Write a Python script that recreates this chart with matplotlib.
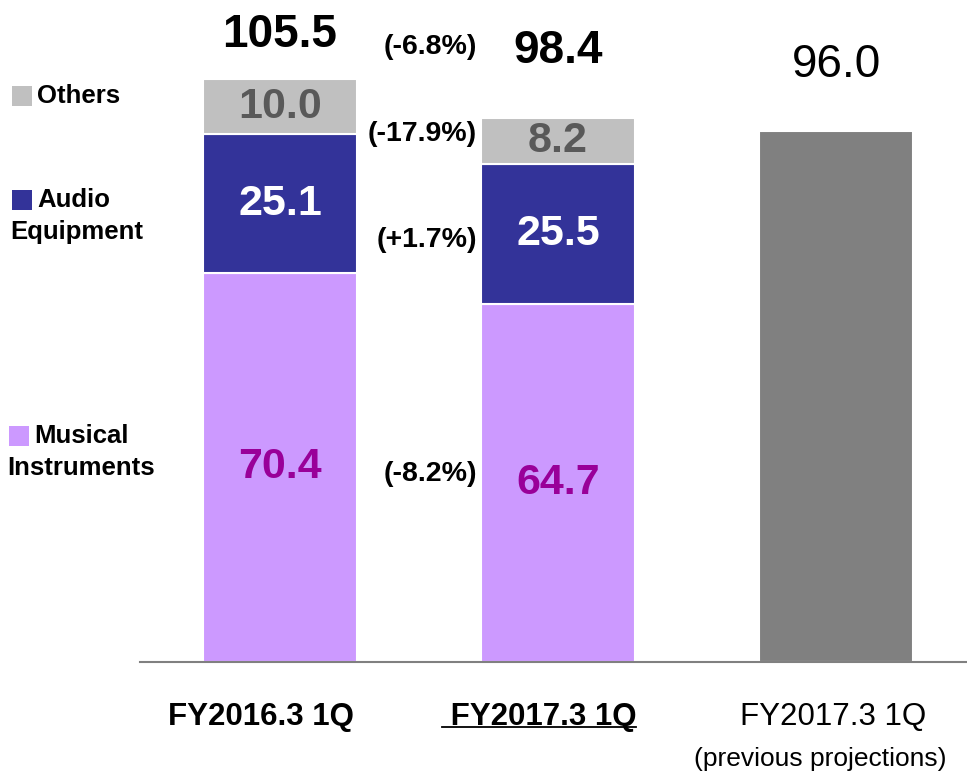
import matplotlib
matplotlib.use("Agg")
import matplotlib.pyplot as plt
from matplotlib.patches import Rectangle
from matplotlib.lines import Line2D
import numpy as np

plt.rcParams['font.family'] = ['Liberation Sans', 'DejaVu Sans']

# ---- data ----
periods = ["FY2016.3 1Q", " FY2017.3 1Q", "FY2017.3 1Q"]
period_sub = ["", "", "(previous projections)"]
musical = [70.4, 64.7]
audio = [25.1, 25.5]
others = [10.0, 8.2]
totals = [105.5, 98.4]
projection = 96.0
pct_labels = ["(-6.8%)", "(-17.9%)", "(+1.7%)", "(-8.2%)"]
pct_y = [111.3, 95.5, 76.4, 34.0]
legend_names = [["Others"], ["Audio", "Equipment"], ["Musical", "Instruments"]]

c_mus = "#CC99FF"
c_aud = "#333399"
c_oth = "#C0C0C0"
c_proj = "#808080"

W, H = 967, 771
fig = plt.figure(figsize=(W / 100, H / 100), dpi=100)
base_px = 662
ax = fig.add_axes([140 / W, (H - base_px) / H, 1 - 140 / W, base_px / H])

scale = 583 / 105.5  # px per unit
ax.set_ylim(0, base_px / scale)
ax.set_xlim(-140 / 278, (967 - 280) / 278)

x = np.arange(3)
width = 154 / 278
ec = "white"
lw = 1.5
ax.bar(x[:2], musical, width, color=c_mus, edgecolor=ec, linewidth=lw)
ax.bar(x[:2], audio, width, bottom=musical, color=c_aud, edgecolor=ec, linewidth=lw)
bot2 = np.array(musical) + np.array(audio)
ax.bar(x[:2], others, width, bottom=bot2, color=c_oth, edgecolor=ec, linewidth=lw)
ax.bar(x[2], projection, width, color=c_proj, edgecolor=ec, linewidth=lw)

for i in range(2):
    ax.text(x[i], musical[i] / 2, f"{musical[i]:.1f}", ha="center", va="center",
            fontsize=31, fontweight="bold", color="#990099")
    ax.text(x[i], musical[i] + audio[i] / 2, f"{audio[i]:.1f}", ha="center", va="center",
            fontsize=31, fontweight="bold", color="white")
    ax.text(x[i], bot2[i] + others[i] / 2, f"{others[i]:.1f}", ha="center", va="center",
            fontsize=31, fontweight="bold", color="#595959")

# totals
tot_offsets = [44, 67]
for i in range(2):
    ax.annotate(f"{totals[i]:.1f}", (x[i], totals[i]), xytext=(0, tot_offsets[i] * 0.72),
                textcoords="offset points", ha="center", va="center",
                fontsize=33, fontweight="bold", color="black")
ax.annotate(f"{projection:.1f}", (x[2], projection), xytext=(0, 66 * 0.72),
            textcoords="offset points", ha="center", va="center",
            fontsize=33, color="black")

# percentage changes
for lab, yv in zip(pct_labels, pct_y):
    ax.text((477 - 280) / 278, yv, lab, ha="right", va="center",
            fontsize=20.5, fontweight="bold", color="black")

# spines
for s in ["top", "right", "left"]:
    ax.spines[s].set_visible(False)
ax.spines["bottom"].set_color("#808080")
ax.spines["bottom"].set_linewidth(1.5)
ax.set_xticks([])
ax.set_yticks([])

# x labels
trans = ax.get_xaxis_transform()
lab_y = -55 / base_px
weights = ["bold", "bold", "normal"]
xlab_texts = []
for i in range(3):
    t = ax.text(x[i] - 19 / 278 * (1 if i < 2 else 0.15), lab_y, periods[i], transform=trans,
                ha="center", va="center", fontsize=22.5, fontweight=weights[i])
    xlab_texts.append(t)
    if period_sub[i]:
        ax.text(x[i] - 16 / 278, -97 / base_px, period_sub[i], transform=trans,
                ha="center", va="center", fontsize=19)

# underline for second label
fig.canvas.draw()
bb = xlab_texts[1].get_window_extent()
fig.add_artist(Line2D([bb.x0 / W, bb.x1 / W], [(H - 727) / H, (H - 727) / H],
                      transform=fig.transFigure, color="black", linewidth=1.3))

# legend-like labels at left
leg_colors = [c_oth, c_aud, c_mus]
leg_marker_px = [(12, 86), (12, 190), (9, 426)]
for names, col, (mx, my) in zip(legend_names, leg_colors, leg_marker_px):
    fig.add_artist(Rectangle((mx / W, (H - my - 20) / H), 20 / W, 20 / H,
                             transform=fig.transFigure, facecolor=col, edgecolor="none"))
    fig.text((mx + 25) / W, (H - my - 10) / H, names[0], ha="left", va="center",
             fontsize=18.5, fontweight="bold")
    if len(names) > 1:
        fig.text((mx - 2) / W, (H - my - 42) / H, names[1], ha="left", va="center",
                 fontsize=18.5, fontweight="bold")

fig.savefig("out.png", dpi=100)
